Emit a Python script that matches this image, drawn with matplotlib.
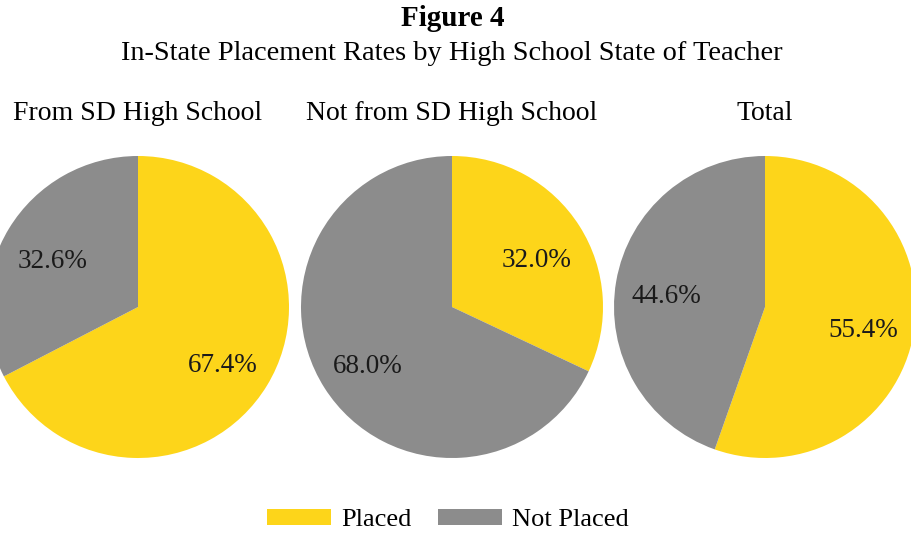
import matplotlib
matplotlib.use("Agg")
import matplotlib.pyplot as plt
from matplotlib.patches import Patch
from matplotlib.transforms import ScaledTranslation

plt.rcParams['font.family'] = ['Liberation Serif', 'DejaVu Serif']

groups = ["From SD High School", "Not from SD High School", "Total"]
categories = ["Placed", "Not Placed"]
placed = [67.4, 32.0, 55.4]
not_placed = [32.6, 68.0, 44.6]
colors = ["#FDD51A", "#8C8C8C"]

W, H = 911, 533
fig = plt.figure(figsize=(W / 100, H / 100), dpi=100)

centers_x = [138, 452, 765]
cy = 307
r = 151

for i, g in enumerate(groups):
    cx = centers_x[i]
    ax = fig.add_axes([(cx - r) / W, (H - cy - r) / H, 2 * r / W, 2 * r / H])
    wedges, texts, autotexts = ax.pie(
        [placed[i], not_placed[i]], colors=colors, startangle=90,
        counterclock=False, autopct='%.1f%%', pctdistance=0.66,
        radius=1.0, wedgeprops=dict(linewidth=0),
        textprops=dict(fontsize=19.5, color='#1a1a1a'))
    for t in autotexts:
        t.set_va('center_baseline')
        t.set_transform(t.get_transform() + ScaledTranslation(0, -0.035, fig.dpi_scale_trans))
    ax.set_xlim(-1, 1)
    ax.set_ylim(-1, 1)
    ax.set_aspect('equal')
    ax.axis('off')
    fig.text(cx / W, 1 - 113 / H, g, ha='center', va='center', fontsize=20)

fig.text(453 / W, 1 - 18 / H, "Figure 4", ha='center', va='center',
         fontsize=21, fontweight='bold')
fig.text(452 / W, 1 - 53 / H,
         "In-State Placement Rates by High School State of Teacher",
         ha='center', va='center', fontsize=20.4)

handles = [Patch(facecolor=c, edgecolor='none', label=l) for c, l in zip(colors, categories)]
fig.legend(handles=handles, loc='center', bbox_to_anchor=(448 / W, 1 - 520 / H),
           ncol=2, frameon=False, fontsize=19, handlelength=2.42, handleheight=0.6,
           handletextpad=0.38, columnspacing=1.0)

fig.savefig("out.png", dpi=100)
